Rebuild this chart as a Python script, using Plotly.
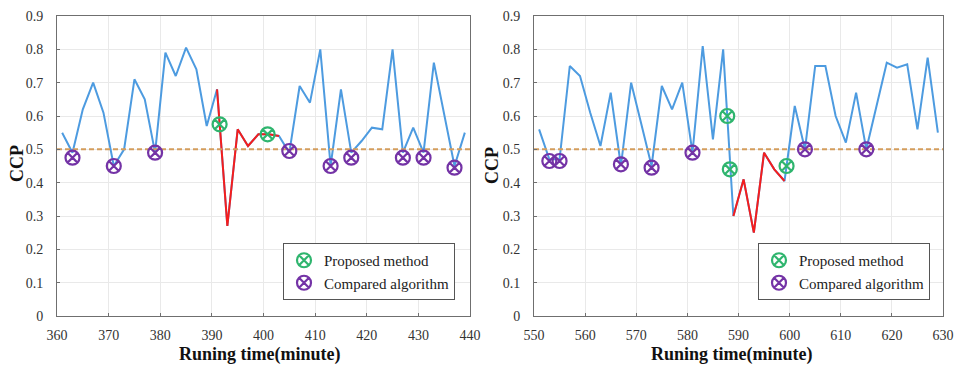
import plotly.graph_objects as go

# Left chart data
left_t = [361, 363, 365, 367, 369, 371, 373, 375, 377, 379, 381, 383, 385, 387, 389, 391,
          393, 395, 397, 399, 401, 403, 405, 407, 409, 411, 413, 415, 417, 419, 421, 423,
          425, 427, 429, 431, 433, 435, 437, 439]
left_v = [0.55, 0.49, 0.62, 0.70, 0.61, 0.45, 0.50, 0.71, 0.65, 0.49, 0.79, 0.72, 0.805, 0.74, 0.57, 0.68,
          0.27, 0.56, 0.51, 0.545, 0.545, 0.54, 0.49, 0.69, 0.64, 0.80, 0.45, 0.68, 0.49, 0.525, 0.565, 0.56,
          0.80, 0.49, 0.565, 0.49, 0.76, 0.605, 0.45, 0.55]
left_red_start, left_red_end = 391, 403
left_prop_t = [391.5, 400.8]
left_prop_v = [0.575, 0.545]
left_comp_t = [363, 371, 379, 405, 413, 417, 427, 431, 437]
left_comp_v = [0.475, 0.45, 0.49, 0.495, 0.45, 0.475, 0.475, 0.475, 0.445]

# Right chart data
right_t = [551, 553, 555, 557, 559, 561, 563, 565, 567, 569, 571, 573, 575, 577, 579, 581,
           583, 585, 587, 589, 591, 593, 595, 597, 599, 601, 603, 605, 607, 609, 611, 613,
           615, 617, 619, 621, 623, 625, 627, 629]
right_v = [0.56, 0.47, 0.47, 0.75, 0.72, 0.61, 0.51, 0.67, 0.45, 0.70, 0.575, 0.45, 0.69, 0.62, 0.70, 0.49,
           0.81, 0.53, 0.80, 0.30, 0.41, 0.25, 0.49, 0.44, 0.405, 0.63, 0.50, 0.75, 0.75, 0.60, 0.52, 0.67,
           0.50, 0.63, 0.76, 0.745, 0.755, 0.56, 0.775, 0.55]
right_red_start, right_red_end = 589, 599
right_prop_t = [587.8, 588.3, 599.4]
right_prop_v = [0.60, 0.44, 0.45]
right_comp_t = [553, 555, 567, 573, 581, 603, 615]
right_comp_v = [0.465, 0.465, 0.455, 0.445, 0.49, 0.50, 0.50]

y_ticks = [0, 0.1, 0.2, 0.3, 0.4, 0.5, 0.6, 0.7, 0.8, 0.9]
y_labels = ["0", "0.1", "0.2", "0.3", "0.4", "0.5", "0.6", "0.7", "0.8", "0.9"]
left_xticks = [360, 370, 380, 390, 400, 410, 420, 430, 440]
right_xticks = [550, 560, 570, 580, 590, 600, 610, 620, 630]
threshold = 0.5
x_title = "Runing time(minute)"
y_title = "CCP"

BLUE = "#4d9be0"
RED = "#f51d1d"
GREEN = "#2fb56e"
PURPLE = "#7433a6"
ORANGE = "#d49d5c"
FONT = "Liberation Serif"

W, H = 955, 370


def px_x(p):
    return p / W


def px_y(p):
    return 1 - p / H


fig = go.Figure()


def add_panel(t, v, rs, re, pt, pv, ct, cv, xa, ya, xr, legend):
    fig.add_trace(go.Scatter(x=t, y=v, mode="lines", line=dict(color=BLUE, width=2),
                             xaxis=xa, yaxis=ya, showlegend=False, hoverinfo="skip"))
    rt = [a for a in t if rs <= a <= re]
    rv = [b for a, b in zip(t, v) if rs <= a <= re]
    fig.add_trace(go.Scatter(x=rt, y=rv, mode="lines", line=dict(color=RED, width=2),
                             xaxis=xa, yaxis=ya, showlegend=False, hoverinfo="skip"))
    fig.add_trace(go.Scatter(x=xr, y=[threshold, threshold], mode="lines",
                             line=dict(color=ORANGE, width=2, dash="5px,3px"),
                             xaxis=xa, yaxis=ya, showlegend=False, hoverinfo="skip"))
    fig.add_trace(go.Scatter(x=pt, y=pv, mode="markers", name="Proposed method",
                             marker=dict(symbol="circle-x-open", size=14, color=GREEN,
                                         line=dict(width=2.2, color=GREEN)),
                             xaxis=xa, yaxis=ya, legend=legend))
    fig.add_trace(go.Scatter(x=ct, y=cv, mode="markers", name="Compared algorithm",
                             marker=dict(symbol="circle-x-open", size=14, color=PURPLE,
                                         line=dict(width=2.2, color=PURPLE)),
                             xaxis=xa, yaxis=ya, legend=legend))


add_panel(left_t, left_v, left_red_start, left_red_end, left_prop_t, left_prop_v,
          left_comp_t, left_comp_v, "x", "y", [360, 440], "legend")
add_panel(right_t, right_v, right_red_start, right_red_end, right_prop_t, right_prop_v,
          right_comp_t, right_comp_v, "x2", "y2", [550, 630], "legend2")

axis_common = dict(showline=True, linecolor="#6f6f6f", linewidth=1, mirror=True,
                   showgrid=True, gridcolor="#e9e9e9", gridwidth=1, zeroline=False,
                   ticks="inside", ticklen=3, tickcolor="#6f6f6f", automargin=False,
                   tickfont=dict(family=FONT, size=14, color="#333333"))

title_font = dict(family=FONT, size=18, color="#111111")

LEFT_DOM = [px_x(57), px_x(470)]
RIGHT_DOM = [px_x(534), px_x(943)]
Y_DOM = [px_y(316), px_y(16)]

legend_common = dict(xanchor="left", yanchor="top", bgcolor="white",
                     bordercolor="#555555", borderwidth=1,
                     font=dict(family=FONT, size=15, color="#222222"),
                     tracegroupgap=0, itemwidth=30)

fig.update_layout(
    template="none",
    width=W, height=H,
    margin=dict(l=0, r=0, t=0, b=0),
    paper_bgcolor="white", plot_bgcolor="white",
    xaxis=dict(domain=LEFT_DOM, range=[360, 440], tickvals=left_xticks,
               ticklabelstandoff=6, anchor="y", **axis_common),
    yaxis=dict(domain=Y_DOM, range=[0, 0.9], tickvals=y_ticks, ticktext=y_labels,
               ticklabelstandoff=10, anchor="x", **axis_common),
    xaxis2=dict(domain=RIGHT_DOM, range=[550, 630], tickvals=right_xticks,
                ticklabelstandoff=6, anchor="y2", **axis_common),
    yaxis2=dict(domain=Y_DOM, range=[0, 0.9], tickvals=y_ticks, ticktext=y_labels,
                ticklabelstandoff=10, anchor="x2", **axis_common),
    legend=dict(x=px_x(283), y=px_y(243), **legend_common),
    legend2=dict(x=px_x(758), y=px_y(243), **legend_common),
    showlegend=True,
    annotations=[
        dict(text="<b>" + x_title + "</b>", x=px_x(260), y=px_y(354), xref="paper", yref="paper",
             xanchor="center", yanchor="middle", showarrow=False, font=title_font),
        dict(text="<b>" + x_title + "</b>", x=px_x(732), y=px_y(354), xref="paper", yref="paper",
             xanchor="center", yanchor="middle", showarrow=False, font=title_font),
        dict(text="<b>" + y_title + "</b>", x=px_x(17), y=px_y(164), xref="paper", yref="paper",
             xanchor="center", yanchor="middle", showarrow=False, textangle=-90, font=title_font),
        dict(text="<b>" + y_title + "</b>", x=px_x(492), y=px_y(166), xref="paper", yref="paper",
             xanchor="center", yanchor="middle", showarrow=False, textangle=-90, font=title_font),
    ],
)

fig.write_html("out.html", config={"displayModeBar": False},
               post_script="document.body.style.margin='0';document.body.style.overflow='hidden';")
